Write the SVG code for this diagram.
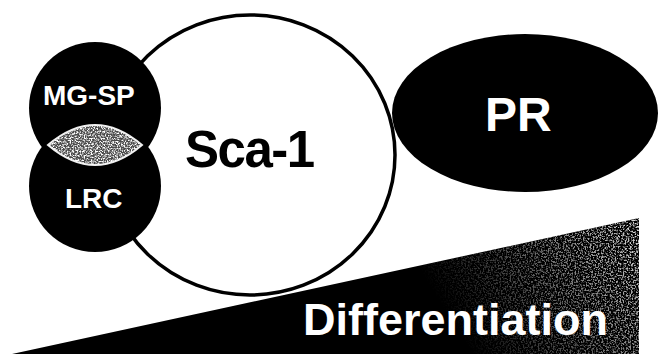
<svg xmlns="http://www.w3.org/2000/svg" width="658" height="354" viewBox="0 0 658 354">
<style>
  .lbl { font-family: "Liberation Sans", Arial, Helvetica, sans-serif; font-weight: bold; fill: #ffffff; }
  .dark { font-family: "Liberation Sans", Arial, Helvetica, sans-serif; font-weight: bold; fill: #000000; }
  .blk { fill: #000000; }
</style>
<defs>
  <filter id="speck" x="0" y="0" width="100%" height="100%" filterUnits="objectBoundingBox">
    <feTurbulence type="fractalNoise" baseFrequency="0.7" numOctaves="2" seed="7" result="n"/>
    <feColorMatrix in="n" type="matrix" values="0 0 0 0 1  0 0 0 0 1  0 0 0 0 1  4 0 0 0 -1.7" result="dots"/>
    <feComposite in="dots" in2="SourceGraphic" operator="in"/>
  </filter>
  <filter id="speck2" x="0" y="0" width="100%" height="100%" filterUnits="objectBoundingBox">
    <feTurbulence type="fractalNoise" baseFrequency="0.6" numOctaves="2" seed="3" result="n"/>
    <feColorMatrix in="n" type="matrix" values="0 0 0 0 1  0 0 0 0 1  0 0 0 0 1  5 0 0 0 -2.3" result="dots"/>
    <feComposite in="dots" in2="SourceGraphic" operator="in"/>
  </filter>
  <linearGradient id="fade" gradientUnits="userSpaceOnUse" x1="460" y1="335" x2="640" y2="225">
    <stop offset="0" stop-color="#fff" stop-opacity="0"/>
    <stop offset="0.55" stop-color="#fff" stop-opacity="0.45"/>
    <stop offset="1" stop-color="#fff" stop-opacity="0.85"/>
  </linearGradient>
</defs>
<rect width="658" height="354" fill="#ffffff"/>

<g id="sca1">
  <ellipse cx="250" cy="155" rx="145" ry="140" fill="#ffffff" stroke="#000000" stroke-width="3.5"/>
  <text class="dark" x="185" y="167" font-size="51" letter-spacing="-1.5">Sca-1</text>
</g>

<g id="pr">
  <ellipse cx="525" cy="113" rx="133" ry="79" class="blk"/>
  <text class="lbl" x="485" y="131" font-size="48">PR</text>
</g>

<g id="mgsp">
  <circle cx="95" cy="108" r="66" class="blk"/>
  <text class="lbl" x="43" y="105" font-size="28">MG-SP</text>
</g>

<g id="lrc">
  <circle cx="95" cy="186" r="66" class="blk"/>
  <text class="lbl" x="65" y="208" font-size="28">LRC</text>
</g>

<g id="overlap">
  <path d="M48,145 Q95,105 142,145 Q95,185 48,145 Z" fill="#4a4a4a" stroke="#eeeeee" stroke-width="2"/>
  <path d="M48,145 Q95,105 142,145 Q95,185 48,145 Z" fill="#ffffff" filter="url(#speck)"/>
</g>

<g id="differentiation">
  <polygon points="12,354 639,218 639,354" class="blk"/>
  <polygon points="12,354 639,218 639,354" fill="url(#fade)" filter="url(#speck2)"/>
  <text class="lbl" x="303" y="335" font-size="45">Differentiation</text>
</g>

<g id="connectors"></g>
</svg>
